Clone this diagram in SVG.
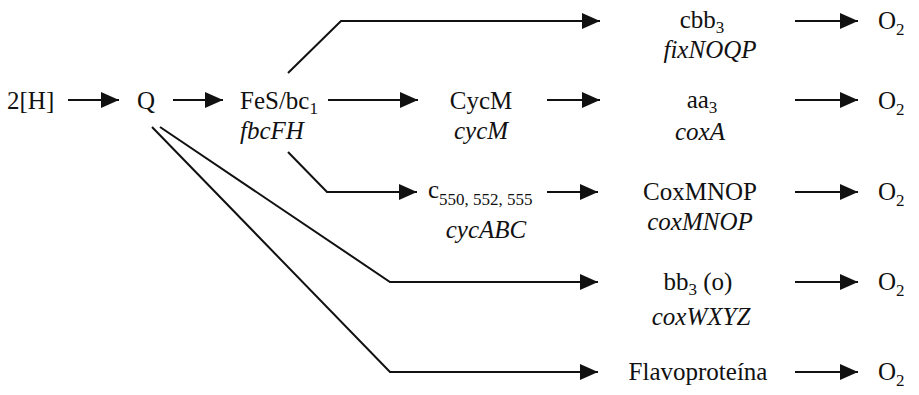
<svg xmlns="http://www.w3.org/2000/svg" width="919" height="395" viewBox="0 0 919 395">
<defs>
<marker id="ah" viewBox="0 0 18 16" refX="18" refY="8" markerWidth="18" markerHeight="16" markerUnits="userSpaceOnUse" orient="auto">
<path d="M0,0 L18,8 L0,16 z" fill="#111"/>
</marker>
<style>
text{font-family:"Liberation Serif","Times New Roman",serif;font-size:25px;fill:#111}
.i{font-style:italic}
.m{text-anchor:middle}
.sub{font-size:17px}
.c path{fill:none;stroke:#111;stroke-width:2}
.a{marker-end:url(#ah)}
</style>
</defs>
<rect width="919" height="395" fill="#fff"/>
<g class="c" id="connectors">
<path class="a" d="M68,100 H119"/>
<path class="a" d="M173,100 H223"/>
<path class="a" d="M328,100 H418"/>
<path class="a" d="M547,100 H600"/>
<path class="a" d="M288,73 L341,21 H600"/>
<path class="a" d="M288,152 L327,192 H417"/>
<path class="a" d="M547,192 H598"/>
<path class="a" d="M160,127 L390,282 H598"/>
<path class="a" d="M152,127 L390,372 H598"/>
<path class="a" d="M795,21 H858"/>
<path class="a" d="M795,100 H858"/>
<path class="a" d="M795,192 H858"/>
<path class="a" d="M795,282 H858"/>
<path class="a" d="M795,372 H858"/>
</g>
<g id="n-2H"><text x="7" y="109">2[H]</text></g>
<g id="n-Q"><text x="137" y="109">Q</text></g>
<g id="n-FeS"><text x="240" y="109">FeS/bc<tspan class="sub" dy="5">1</tspan></text><text class="i" x="240" y="139">fbcFH</text></g>
<g id="n-CycM"><text class="m" x="481" y="109">CycM</text><text class="i m" x="481" y="139">cycM</text></g>
<g id="n-c550"><text x="428" y="198">c<tspan class="sub" dy="7">550, 552, 555</tspan></text><text class="i m" x="486" y="238">cycABC</text></g>
<g id="n-cbb3"><text class="m" x="702" y="28">cbb<tspan class="sub" dy="5">3</tspan></text><text class="i m" x="710" y="58">fixNOQP</text></g>
<g id="n-aa3"><text class="m" x="702" y="108">aa<tspan class="sub" dy="5">3</tspan></text><text class="i m" x="700" y="140">coxA</text></g>
<g id="n-CoxMNOP"><text class="m" x="700" y="200">CoxMNOP</text><text class="i m" x="700" y="230">coxMNOP</text></g>
<g id="n-bb3"><text class="m" x="698" y="290">bb<tspan class="sub" dy="5">3</tspan><tspan dy="-5"> (o)</tspan></text><text class="i m" x="701" y="325">coxWXYZ</text></g>
<g id="n-flavo"><text class="m" x="698" y="380">Flavoproteína</text></g>
<g id="n-O2a"><text x="878" y="29">O<tspan class="sub" dy="6">2</tspan></text></g>
<g id="n-O2b"><text x="878" y="109">O<tspan class="sub" dy="6">2</tspan></text></g>
<g id="n-O2c"><text x="878" y="200">O<tspan class="sub" dy="6">2</tspan></text></g>
<g id="n-O2d"><text x="878" y="290">O<tspan class="sub" dy="6">2</tspan></text></g>
<g id="n-O2e"><text x="878" y="380">O<tspan class="sub" dy="6">2</tspan></text></g>
</svg>
